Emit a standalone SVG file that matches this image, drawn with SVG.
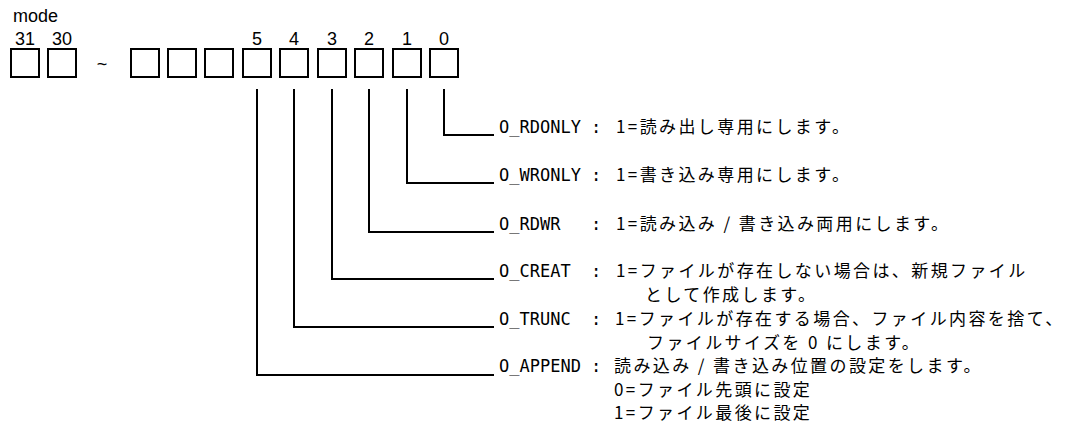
<svg xmlns="http://www.w3.org/2000/svg" width="1073" height="423" viewBox="0 0 1073 423">
  <style>
    .bg { fill: #ffffff; }
    .box { fill: #ffffff; stroke: #000000; stroke-width: 2; }
    .num { font-family: "Liberation Sans", Arial, sans-serif; font-size: 18px; fill: #000000; text-anchor: middle; }
    .title { font-family: "Liberation Sans", Arial, sans-serif; font-size: 18px; fill: #000000; }
    .flag { font-family: "DejaVu Sans Mono", "Liberation Mono", monospace; font-size: 17px; fill: #000000; }
    .colon { font-family: "DejaVu Sans Mono", "Liberation Mono", monospace; font-size: 17px; fill: #000000; text-anchor: middle; }
    .desc { font-family: "Noto Sans CJK JP", "Noto Sans", sans-serif; font-size: 17px; letter-spacing: 2.4px; fill: #000000; }
    .conn { fill: none; stroke: #000000; stroke-width: 2; }
  </style>
  <rect class="bg" x="0" y="0" width="1073" height="423"/>

  <g id="header">
    <text class="title" x="13" y="22">mode</text>
    <text class="num" x="25" y="45">31</text>
    <text class="num" x="62" y="45">30</text>
    <text class="num" x="102" y="70">~</text>
    <text class="num" x="257" y="45">5</text>
    <text class="num" x="294" y="45">4</text>
    <text class="num" x="332" y="45">3</text>
    <text class="num" x="369" y="45">2</text>
    <text class="num" x="407" y="45">1</text>
    <text class="num" x="444" y="45">0</text>
  </g>

  <g id="bit31"><rect class="box" x="11" y="49" width="28" height="28"/></g>
  <g id="bit30"><rect class="box" x="48" y="49" width="28" height="28"/></g>
  <g id="bit8"><rect class="box" x="131" y="49" width="28" height="28"/></g>
  <g id="bit7"><rect class="box" x="168" y="49" width="28" height="28"/></g>
  <g id="bit6"><rect class="box" x="205" y="49" width="28" height="28"/></g>
  <g id="bit5"><rect class="box" x="243" y="49" width="28" height="28"/></g>
  <g id="bit4"><rect class="box" x="280" y="49" width="28" height="28"/></g>
  <g id="bit3"><rect class="box" x="318" y="49" width="28" height="28"/></g>
  <g id="bit2"><rect class="box" x="355" y="49" width="28" height="28"/></g>
  <g id="bit1"><rect class="box" x="393" y="49" width="28" height="28"/></g>
  <g id="bit0"><rect class="box" x="430" y="49" width="28" height="28"/></g>

  <g id="connectors">
    <polyline class="conn" points="444,89 444,135 494,135"/>
    <polyline class="conn" points="407,89 407,183 494,183"/>
    <polyline class="conn" points="369,89 369,232 494,232"/>
    <polyline class="conn" points="332,89 332,279 494,279"/>
    <polyline class="conn" points="294,89 294,327 494,327"/>
    <polyline class="conn" points="257,89 257,375 494,375"/>
  </g>

  <g id="o_rdonly">
    <text class="flag" x="499" y="133">O_RDONLY</text>
    <text class="colon" x="596" y="133">:</text>
    <text class="desc" x="616" y="133">1=読み出し専用にします。</text>
  </g>
  <g id="o_wronly">
    <text class="flag" x="499" y="181">O_WRONLY</text>
    <text class="colon" x="596" y="181">:</text>
    <text class="desc" x="616" y="181">1=書き込み専用にします。</text>
  </g>
  <g id="o_rdwr">
    <text class="flag" x="499" y="230">O_RDWR</text>
    <text class="colon" x="596" y="230">:</text>
    <text class="desc" x="616" y="230">1=読み込み / 書き込み両用にします。</text>
  </g>
  <g id="o_creat">
    <text class="flag" x="499" y="277">O_CREAT</text>
    <text class="colon" x="596" y="277">:</text>
    <text class="desc" x="616" y="277">1=ファイルが存在しない場合は、新規ファイル<tspan x="645" y="301">として作成します。</tspan></text>
  </g>
  <g id="o_trunc">
    <text class="flag" x="499" y="325">O_TRUNC</text>
    <text class="colon" x="596" y="325">:</text>
    <text class="desc" x="615" y="325">1=ファイルが存在する場合、ファイル内容を捨て、<tspan x="647" y="349">ファイルサイズを 0 にします。</tspan></text>
  </g>
  <g id="o_append">
    <text class="flag" x="499" y="372">O_APPEND</text>
    <text class="colon" x="596" y="372">:</text>
    <text class="desc" x="614" y="372">読み込み / 書き込み位置の設定をします。<tspan x="614" y="396">0=ファイル先頭に設定</tspan><tspan x="614" y="419">1=ファイル最後に設定</tspan></text>
  </g>
</svg>
